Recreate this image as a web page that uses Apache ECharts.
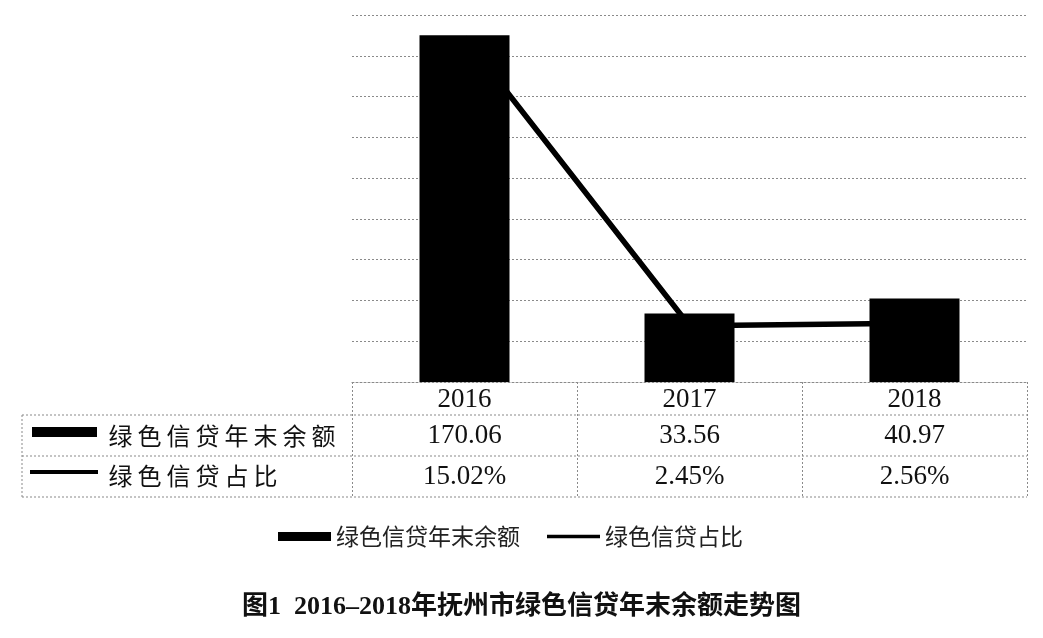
<!DOCTYPE html>
<html>
<head>
<meta charset="utf-8">
<script src="https://cdn.jsdelivr.net/npm/echarts@6/dist/echarts.min.js"></script>
<style>
html,body{margin:0;padding:0;background:#fff;}
#chart{width:1043px;height:638px;}
</style>
</head>
<body>
<div id="chart"></div>
<script>
const years = ['2016', '2017', '2018'];
const balance = [170.06, 33.56, 40.97];
const share = [15.02, 2.45, 2.56];
const seriesNames = ['绿色信贷年末余额', '绿色信贷占比'];
const titleText = '图1  2016–2018年抚州市绿色信贷年末余额走势图';

const serif = 'Liberation Serif, Times New Roman, serif';
const cjk = 'Noto Sans CJK SC, sans-serif';
const gridColor = '#8a8a8a';
const dotted = { color: gridColor, width: 1, type: [2, 2] };

// spaced rich text (keeps the same characters, adds letter spacing)
function spaced(str) {
  return str.split('').map(c => '{s|' + c + '}').join('');
}

const chart = echarts.init(document.getElementById('chart'));
const option = {
  backgroundColor: '#fff',
  animation: false,
  title: {
    text: titleText,
    left: 'center',
    top: 589,
    textStyle: { fontSize: 26, fontWeight: 'bold', fontFamily: 'Liberation Serif, Noto Sans CJK SC', color: '#111' }
  },
  legend: {
    left: 273,
    top: 520,
    itemWidth: 53,
    itemHeight: 9,
    itemGap: 27,
    textStyle: { fontSize: 23, fontFamily: cjk, color: '#222' },
    data: [
      { name: seriesNames[0], icon: 'rect' },
      { name: seriesNames[1], icon: 'path://M0,0 L60,0 L60,4 L0,4 Z' }
    ]
  },
  grid: { left: 352, right: 16, top: 15, bottom: 256, containLabel: false },
  xAxis: [
    {
      type: 'category', data: years, gridIndex: 0, position: 'bottom',
      axisLine: { show: true, lineStyle: dotted },
      axisTick: { show: true, length: 115, lineStyle: dotted, alignWithLabel: false },
      axisLabel: { margin: 4, fontSize: 27, fontFamily: serif, color: '#111' }
    },
    {
      type: 'category', data: years, gridIndex: 0, position: 'bottom', offset: 36,
      axisLine: { show: false }, axisTick: { show: false },
      axisLabel: { margin: 4, fontSize: 27, fontFamily: serif, color: '#111',
        formatter: (v, i) => balance[i].toFixed(2) }
    },
    {
      type: 'category', data: years, gridIndex: 0, position: 'bottom', offset: 77,
      axisLine: { show: false }, axisTick: { show: false },
      axisLabel: { margin: 4, fontSize: 27, fontFamily: serif, color: '#111',
        formatter: (v, i) => share[i].toFixed(2) + '%' }
    }
  ],
  yAxis: [
    {
      type: 'value', min: 0, max: 180, interval: 20,
      axisLabel: { show: false }, axisLine: { show: false }, axisTick: { show: false },
      splitLine: { show: true, lineStyle: dotted }
    },
    {
      type: 'value', min: 0, max: 16, interval: 2,
      axisLabel: { show: false }, axisLine: { show: false }, axisTick: { show: false },
      splitLine: { show: false }
    }
  ],
  series: [
    {
      name: seriesNames[0], type: 'bar', data: balance, barWidth: '40%',
      itemStyle: { color: '#000' }, xAxisIndex: 0, yAxisIndex: 0
    },
    {
      name: seriesNames[1], type: 'line', data: share, yAxisIndex: 1, xAxisIndex: 0,
      symbol: 'none', lineStyle: { color: '#000', width: 5.5 }, itemStyle: { color: '#000' }, z: 5
    }
  ],
  graphic: [
    { type: 'line', shape: { x1: 22, y1: 415, x2: 1027, y2: 415 }, style: { stroke: gridColor, lineWidth: 1, lineDash: [2, 2] }, silent: true },
    { type: 'line', shape: { x1: 22, y1: 456, x2: 1027, y2: 456 }, style: { stroke: gridColor, lineWidth: 1, lineDash: [2, 2] }, silent: true },
    { type: 'line', shape: { x1: 22, y1: 497, x2: 1027, y2: 497 }, style: { stroke: gridColor, lineWidth: 1, lineDash: [2, 2] }, silent: true },
    { type: 'line', shape: { x1: 22, y1: 415, x2: 22, y2: 497 }, style: { stroke: gridColor, lineWidth: 1, lineDash: [2, 2] }, silent: true },
    { type: 'rect', shape: { x: 32, y: 427, width: 65, height: 10 }, style: { fill: '#000' }, silent: true },
    { type: 'rect', shape: { x: 30, y: 470, width: 68, height: 4 }, style: { fill: '#000' }, silent: true },
    { type: 'text', x: 106, y: 436, style: { text: spaced(seriesNames[0]), fontSize: 24, fontFamily: cjk, fill: '#111', verticalAlign: 'middle',
        rich: { s: { fontSize: 24, fontFamily: cjk, fill: '#111', padding: [0, 2.5] } } }, silent: true },
    { type: 'text', x: 106, y: 476, style: { text: spaced(seriesNames[1]), fontSize: 24, fontFamily: cjk, fill: '#111', verticalAlign: 'middle',
        rich: { s: { fontSize: 24, fontFamily: cjk, fill: '#111', padding: [0, 2.5] } } }, silent: true }
  ]
};
chart.setOption(option);
</script>
</body>
</html>
